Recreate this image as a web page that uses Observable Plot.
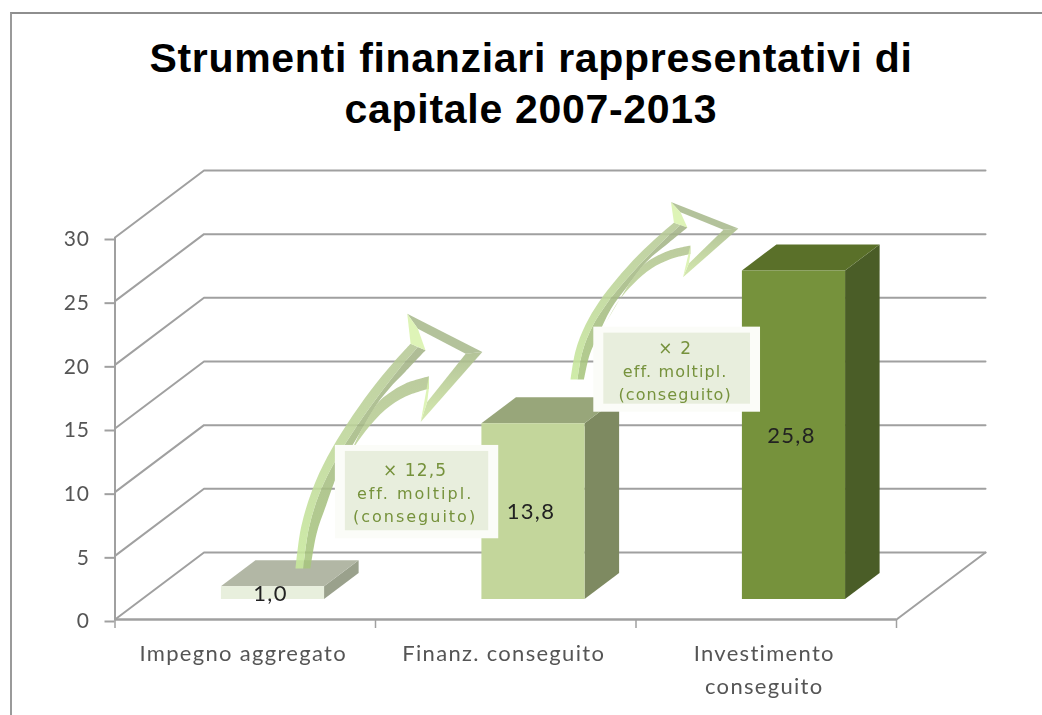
<!DOCTYPE html>
<html><head><meta charset="utf-8">
<script src="https://cdn.jsdelivr.net/npm/d3@7"></script>
<script src="https://cdn.jsdelivr.net/npm/@observablehq/plot@0.6"></script>
<style>
html,body{margin:0;padding:0;background:#fff;width:1042px;height:715px;overflow:hidden}
#frame{position:absolute;left:10px;top:12px;right:0;bottom:0;border-left:2px solid #9a9a9a;border-top:2px solid #8e8e8e;box-sizing:border-box}
#title{position:relative;height:130px;box-sizing:border-box;padding-top:33px;text-align:center;font:bold 41px/51px "Liberation Sans",Arial,sans-serif;letter-spacing:.7px;color:#000;padding-left:20px}
#chart{position:relative;display:block}
svg{display:block;filter:blur(.4px)}
.sp-cat text{letter-spacing:1.3px}
.sp-val text{letter-spacing:1.3px}
.sp-tick text{letter-spacing:1px}
.sp-box0 text{letter-spacing:2px}
.sp-box1 text{letter-spacing:1.1px}
</style></head><body>
<div id="frame"></div>
<div id="title">Strumenti finanziari rappresentativi di<br>capitale 2007-2013</div>
<div id="chart"></div>
<script>
const categories = ["Impegno aggregato", "Finanz. conseguito", "Investimento\nconseguito"];
const values = [1.0, 13.8, 25.8];
const yTicks = [0, 5, 10, 15, 20, 25, 30];
const xTicks = [0, 1, 2, 3];
const frontColors = ["#e8efdd", "#c3d69b", "#76923c"];
const topColors = ["#b2b7a5", "#98a67a", "#5a7029"];
const sideColors = ["#9aa18c", "#7e8a61", "#4a5d27"];
const multipliers = ["× 12,5", "× 2"];
const callouts = ["eff. moltipl.", "(conseguito)"];
// callout boxes, chart units
const boxX1 = [0.846, 1.838], boxX2 = [1.473, 2.478];
const boxY1 = [6.34, 16.28], boxY2 = [13.67, 22.96];
// arrow anchors, chart units
const arrowFromX = [0.693, 1.749], arrowFromY = [4.0, 18.85];
const arrowToX = [1.41, 2.393], arrowToY = [21.0, 30.7];
// arrow outline, normalised from base (0,0) to head tip (1,1)
const outerEdge = [[0,0],[.03,.192],[.089,.362],[.17,.515],[.277,.669],[.402,.823],[.527,.954],[.616,1.038]];
const midEdge = [[.041,0],[.071,.185],[.129,.349],[.211,.495],[.316,.642],[.441,.795],[.559,.926],[.655,1.023]];
const innerEdge = [[.696,1.008],[.589,.91],[.50,.83],[.44,.765],[.34,.62],[.241,.469],[.161,.285],[.113,.162],[.08,0]];
const lowerUpperEdge = [[.34,.62],[.44,.765],[.50,.81],[.589,.855],[.714,.888]];
const lowerLowerEdge = [[.714,.831],[.589,.795],[.482,.735],[.375,.635],[.286,.52],[.214,.385],[.161,.285]];
const headTop = [[.598,1.177],[1,1],[.911,.992],[.655,1.108]];
const headRight = [[1,1],[.67,.677],[.705,.769],[.911,.992]];
const headNotchUp = [[.598,1.177],[.655,1.108],[.696,1.008],[.616,1.038]];
const headNotchLow = [[.67,.677],[.714,.888],[.714,.831],[.705,.769]];

// oblique depth of the 3-D box, chart units
const DX = 0.3417, DY = 5.263, d1 = 0.306, d2 = 0.694, halfBar = 0.198;
const P = (x, v, d) => [x + d * DX, v + d * DY];

const poly = (pts, fill, o = {}) => Plot.line(pts, {x: d => d[0], y: d => d[1], fill, stroke: "none", curve: "linear", ...o});
const rim = (pts, stroke) => Plot.line(pts, {x: d => d[0], y: d => d[1], stroke, strokeWidth: 2, curve: "linear"});
// repeating an edge's end points keeps a sharp corner under the catmull-rom curve
const edge = pts => [pts[0], pts[0], ...pts, pts[pts.length - 1], pts[pts.length - 1]];

const gridColor = "#a0a0a0";
const wall = yTicks.map(v => rim([P(0, v, 0), P(0, v, 1), P(3, v, 1)], gridColor));

const barMarks = values.flatMap((v, i) => {
  const c = i + .5, l = c - halfBar, r = c + halfBar;
  return [
    poly([P(r,0,d1), P(r,v,d1), P(r,v,d2), P(r,0,d2)], sideColors[i]),
    poly([P(l,v,d1), P(r,v,d1), P(r,v,d2), P(l,v,d2)], topColors[i]),
    poly([P(l,0,d1), P(r,0,d1), P(r,v,d1), P(l,v,d1)], frontColors[i])
  ];
});

const arrowMarks = arrowFromX.flatMap((x0, i) => {
  const y0 = arrowFromY[i], w = arrowToX[i] - x0, h = arrowToY[i] - y0;
  const T = pts => pts.map(([u, v]) => [x0 + u * w, y0 + v * h]);
  const o = {fillOpacity: .88};
  const c = {fillOpacity: .88, curve: "catmull-rom"};
  return [
    poly(T([...edge(midEdge), ...edge(innerEdge)]), "url(#shaftDark)", c),
    poly(T([...edge(lowerUpperEdge), ...edge(lowerLowerEdge)]), "url(#shaftLower)", c),
    poly(T([...edge(outerEdge), ...edge(midEdge.slice().reverse())]), "url(#shaftLight)", c),
    poly(T(headTop), "#a9b98d", o),
    poly(T(headRight), "url(#headRight)", o),
    poly(T(headNotchUp), "#daf2ad", o),
    poly(T(headNotchLow), "#daf2ad", o)
  ];
});

const gradient = (defs, id, bottom, top) => {
  const g = defs.append("linearGradient").attr("id", id).attr("x1", 0).attr("y1", 1).attr("x2", 0).attr("y2", 0);
  g.append("stop").attr("offset", "0%").attr("stop-color", bottom);
  g.append("stop").attr("offset", "100%").attr("stop-color", top);
};
const defsMark = () => {
  const defs = d3.create("svg:defs");
  gradient(defs, "shaftLight", "#c8e99c", "#b6c896");
  gradient(defs, "shaftDark", "#a8c67e", "#a4b388");
  gradient(defs, "shaftLower", "#c2dc9a", "#b2c490");
  gradient(defs, "headRight", "#cfe6a4", "#a9bb8a");
  return defs.node();
};

const boxes = arrowFromX.map((_, i) => ({x1: boxX1[i], x2: boxX2[i], y1: boxY1[i], y2: boxY2[i], cx: (boxX1[i] + boxX2[i]) / 2, cy: (boxY1[i] + boxY2[i]) / 2, label: multipliers[i]}));

const boxFont = {fontFamily: "DejaVu Sans", fontSize: 16, fill: "#76923c", dx: -2};
const boxText = boxes.flatMap((b, i) => {
  const className = "sp-box" + i;
  return [
    Plot.text([b], {x: "cx", y: "cy", text: "label", ...boxFont, dy: -21.5, fontSize: 17, className: "sp-box1"}),
    Plot.text([b], {x: "cx", y: "cy", text: () => callouts[0], ...boxFont, dy: 2, className}),
    Plot.text([b], {x: "cx", y: "cy", text: () => callouts[1], ...boxFont, dy: 25, className})
  ];
});

const plot = Plot.plot({
  width: 1042, height: 585,
  marginLeft: 114.5, marginRight: 146, marginTop: 107, marginBottom: 96,
  x: {domain: [0, 3]},
  y: {domain: [0, 30]},
  style: {background: "transparent", overflow: "visible"},
  marks: [
    defsMark,
    ...wall,
    rim([P(3,0,0), P(3,0,1)], gridColor),
    Plot.ruleX([0], {y1: 0, y2: 30, stroke: "#a0a0a0", strokeWidth: 2}),
    Plot.ruleY([0], {stroke: "#a0a0a0", strokeWidth: 2.5}),
    Plot.axisY({ticks: yTicks, tickSize: 10, tickPadding: 15, stroke: "#a0a0a0", strokeWidth: 2, label: null, tickFormat: d3.format("d"), fontFamily: "Lato", fontSize: 21, fill: "#555", dy: 2, marginLeft: 114.5, className: "sp-tick"}),
    Plot.axisX({ticks: xTicks, tickSize: 9, label: null, stroke: "#a0a0a0", strokeWidth: 1.5, tickFormat: () => ""}),
    Plot.text(categories, {x: (d, i) => i + .5, y: 0, dy: 18, dx: -2, lineAnchor: "top", lineHeight: 1.5, fontFamily: "Lato", fontSize: 22, fill: "#555", className: "sp-cat"}),
    ...barMarks,
    ...arrowMarks,
    Plot.rect(boxes, {x1: "x1", x2: "x2", y1: "y1", y2: "y2", fill: "#fbfcf8"}),
    Plot.rect(boxes, {x1: "x1", x2: "x2", y1: "y1", y2: "y2", fill: "#e8eedd", insetLeft: 10, insetRight: 10, insetTop: 6, insetBottom: 8}),
    ...boxText,
    Plot.text(values, {x: (d, i) => i + .5 + d1 * DX, y: d => d / 2 + d1 * DY, text: d => d.toFixed(1).replace(".", ","), fontFamily: "Lato", fontSize: 22, fill: "#222", dx: -2, dy: 1, className: "sp-val"})
  ]
});
document.getElementById("chart").append(plot);
</script>
</body></html>
